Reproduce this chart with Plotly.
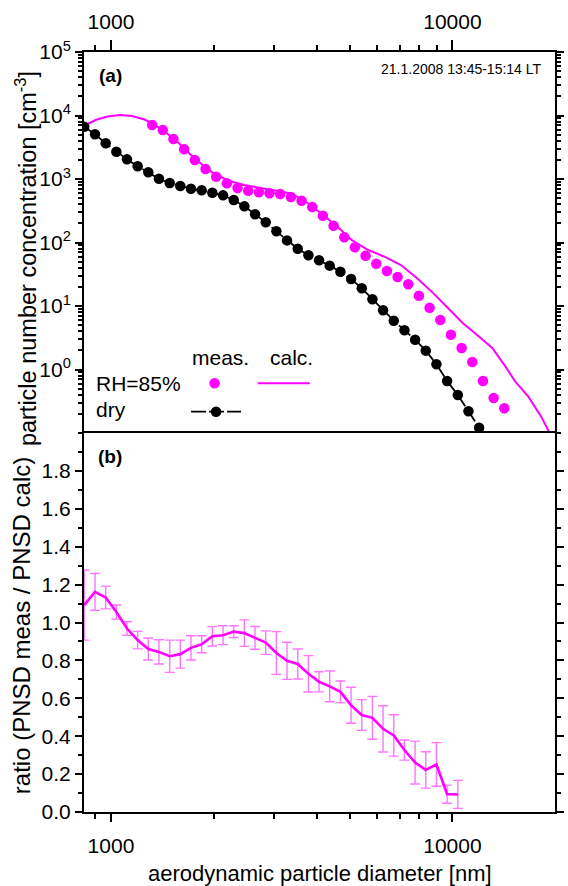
import plotly.graph_objects as go

# ---------------- data ----------------
# dry PNSD (APS channels, nm) and concentration
dry_d = [835, 898, 965, 1037, 1114, 1197, 1286, 1382, 1486, 1596, 1715, 1843, 1981,
         2129, 2288, 2458, 2642, 2839, 3051, 3278, 3523, 3786, 4068, 4371, 4698,
         5048, 5425, 5829, 6264, 6732, 7234, 7774, 8354, 8977, 9647, 10370, 11140, 11970]
dry_n = [6660, 5060, 3650, 2690, 2040, 1585, 1275, 1010, 865, 776, 703, 663, 608,
         553, 467, 372, 278, 208, 150, 108, 79.8, 62.8, 52.5, 43.2, 34.7,
         26.6, 19.0, 12.8, 8.55, 5.87, 4.14, 2.95, 1.98, 1.21, 0.659, 0.397, 0.220, 0.121]

# measured PNSD at RH=85%
meas_d = [1320, 1418, 1524, 1638, 1760, 1892, 2033, 2185, 2348, 2523, 2711, 2913,
          3130, 3364, 3615, 3885, 4174, 4486, 4821, 5180, 5567, 5982, 6428, 6908,
          7423, 7977, 8572, 9212, 9899, 10637, 11431, 12284, 13200, 14185]
meas_n = [7080, 5910, 4270, 2935, 1990, 1436, 1087, 855, 722, 654, 618, 596,
          581, 521, 455, 362, 264, 184, 121, 84, 61.9, 46.4, 35.6, 28.6,
          22.0, 14.5, 9.40, 6.02, 3.53, 2.18, 1.31, 0.659, 0.356, 0.245]

# calculated PNSD at RH=85%
calc_d = [838, 901, 976, 1063, 1151, 1254, 1320, 1431, 1581, 1758, 1965, 2198, 2454,
          2681, 2926, 3340, 3650, 4074, 4548, 5078, 5666, 6325, 7061, 7882, 8800,
          9829, 10730, 11980, 13100, 14300, 15280, 16680, 18200, 19230]
calc_n = [6960, 8490, 9640, 10190, 9820, 8650, 7530, 5700, 3650, 2100, 1303, 947, 805,
          735, 689, 596, 479, 305, 189, 109, 76.2, 59.7, 44.2, 27.3, 15.8,
          8.65, 5.35, 3.29, 2.16, 1.11, 0.643, 0.373, 0.181, 0.101]

# ratio meas / calc
ratio_d = dry_d[:36]
ratio = [1.092, 1.162, 1.132, 1.055, 0.968, 0.907, 0.860, 0.845, 0.822, 0.833, 0.866, 0.885,
         0.927, 0.933, 0.952, 0.944, 0.919, 0.894, 0.839, 0.798, 0.781, 0.729, 0.687, 0.663,
         0.634, 0.563, 0.512, 0.497, 0.439, 0.404, 0.327, 0.261, 0.222, 0.251, 0.094, 0.093]
ratio_err = [0.185, 0.097, 0.060, 0.037, 0.036, 0.046, 0.058, 0.064, 0.085, 0.074, 0.064, 0.045,
             0.051, 0.050, 0.031, 0.070, 0.060, 0.062, 0.113, 0.098, 0.079, 0.096, 0.053, 0.081,
             0.057, 0.095, 0.081, 0.113, 0.122, 0.109, 0.053, 0.113, 0.096, 0.115, 0.048, 0.074]

x_major = [1000, 10000]
x_major_text = ["1000", "10000"]
x_minor = [900, 2000, 3000, 4000, 5000, 6000, 7000, 8000, 9000, 20000]
ya_major = [1, 10, 100, 1000, 10000, 100000]
ya_major_text = ["10<sup>0</sup>", "10<sup>1</sup>", "10<sup>2</sup>",
                 "10<sup>3</sup>", "10<sup>4</sup>", "10<sup>5</sup>"]
ya_minor = [m * 10 ** k for k in range(-1, 5) for m in range(2, 10)]
yb_major = [0.0, 0.2, 0.4, 0.6, 0.8, 1.0, 1.2, 1.4, 1.6, 1.8]
yb_major_text = ["0.0", "0.2", "0.4", "0.6", "0.8", "1.0", "1.2", "1.4", "1.6", "1.8"]

MAG = "#FF00FF"
FONT = "Liberation Sans, Arial, sans-serif"

fig = go.Figure()
fig.add_trace(go.Scatter(x=calc_d, y=calc_n, mode="lines", name="",
                         line=dict(color=MAG, width=2), xaxis="x", yaxis="y",
                         legend="legend2"))
fig.add_trace(go.Scatter(x=meas_d, y=meas_n, mode="markers", name="",
                         marker=dict(color=MAG, size=10.5), xaxis="x", yaxis="y",
                         legend="legend"))
fig.add_trace(go.Scatter(x=dry_d, y=dry_n, mode="lines+markers", name="",
                         line=dict(color="black", width=1.8, dash="15px,3px"),
                         marker=dict(color="black", size=10.5), xaxis="x", yaxis="y",
                         legend="legend3"))
fig.add_trace(go.Scatter(x=ratio_d, y=ratio, mode="lines", showlegend=False,
                         line=dict(color=MAG, width=2.6),
                         error_y=dict(type="data", array=ratio_err, color="rgba(255,70,255,0.75)",
                                      thickness=1.4, width=5),
                         xaxis="x2", yaxis="y2"))

W, H = 568, 886
L, R, T, B = 84, 4, 52, 74
PH = H - T - B  # 760
split = (812 - 433) / PH


def px(xpage):
    return (xpage - L) / (W - L - R)


def py(ypage):
    return (812 - ypage) / PH


axis_common = dict(showgrid=False, zeroline=False, showline=True, linecolor="black",
                   linewidth=2, ticks="outside", tickcolor="black", tickwidth=2,
                   tickfont=dict(family=FONT, size=21, color="black"))

xr = [2.921, 4.3003]
fig.update_layout(
    width=W, height=H,
    margin=dict(l=L, r=R, t=T, b=B, pad=0),
    paper_bgcolor="white", plot_bgcolor="white",
    font=dict(family=FONT, color="black"),
    xaxis=dict(type="log", range=xr, anchor="y", side="top", mirror=False,
               tickmode="array", tickvals=x_major, ticktext=x_major_text, ticklen=10,
               ticklabelstandoff=3,
               minor=dict(tickmode="array", tickvals=x_minor, ticks="outside", ticklen=5,
                          tickwidth=1.5, tickcolor="black"),
               **axis_common),
    xaxis2=dict(type="log", range=xr, anchor="y2", side="bottom", mirror=True, matches="x",
                tickmode="array", tickvals=x_major, ticktext=x_major_text, ticklen=8,
                ticklabelstandoff=6,
                minor=dict(tickmode="array", tickvals=x_minor, ticks="outside", ticklen=5,
                           tickwidth=1.5, tickcolor="black"),
                **axis_common),
    yaxis=dict(type="log", range=[-1, 5], domain=[split, 1], anchor="x", mirror="ticks",
               tickmode="array", tickvals=ya_major, ticktext=ya_major_text, ticklen=7,
               minor=dict(tickmode="array", tickvals=ya_minor, ticks="outside", ticklen=4,
                          tickwidth=1.5, tickcolor="black"),
               **axis_common),
    yaxis2=dict(range=[0, 2], domain=[0, split], anchor="x2", mirror="ticks",
                tickmode="array", tickvals=yb_major, ticktext=yb_major_text, ticklen=7,
                minor=dict(dtick=0.1, tick0=0, ticks="outside", ticklen=4,
                           tickwidth=1.5, tickcolor="black"),
                **axis_common),
    legend=dict(x=px(196.7), y=py(383.3), xanchor="left", yanchor="middle",
                bgcolor="rgba(0,0,0,0)", borderwidth=0, itemwidth=30,
                font=dict(size=12)),
    legend2=dict(x=px(256), y=py(383.3), xanchor="left", yanchor="middle",
                 bgcolor="rgba(0,0,0,0)", borderwidth=0, itemwidth=52,
                 font=dict(size=12)),
    legend3=dict(x=px(188), y=py(411.7), xanchor="left", yanchor="middle",
                 bgcolor="rgba(0,0,0,0)", borderwidth=0, itemwidth=50,
                 font=dict(size=12)),
    showlegend=True,
)

ann = [
    dict(text="<b>(a)</b>", x=px(97), y=py(75), xanchor="left", yanchor="middle",
         font=dict(size=19)),
    dict(text="<b>(b)</b>", x=px(96), y=py(456), xanchor="left", yanchor="middle",
         font=dict(size=19)),
    dict(text="21.1.2008 13:45-15:14 LT", x=px(553), y=py(68.5), xanchor="right",
         yanchor="middle", font=dict(size=14)),
    dict(text="meas.", x=px(223.5), y=py(357.5), xanchor="center", yanchor="middle",
         font=dict(size=21)),
    dict(text="calc.", x=px(295), y=py(357.5), xanchor="center", yanchor="middle",
         font=dict(size=21)),
    dict(text="RH=85%", x=px(94), y=py(383.5), xanchor="left", yanchor="middle",
         font=dict(size=21)),
    dict(text="dry", x=px(94), y=py(409.5), xanchor="left", yanchor="middle",
         font=dict(size=21)),
    dict(text="particle number concentration [cm<sup>-3</sup>]", x=px(25), y=py(259),
         xanchor="center", yanchor="middle", textangle=-90, font=dict(size=23.5)),
    dict(text="ratio (PNSD meas / PNSD calc)", x=px(20), y=py(626),
         xanchor="center", yanchor="middle", textangle=-90, font=dict(size=24)),
    dict(text="aerodynamic particle diameter [nm]", x=px(324), y=py(874),
         xanchor="center", yanchor="middle", font=dict(size=22)),
]
for a in ann:
    a.update(xref="paper", yref="paper", showarrow=False)
    a["font"].update(family=FONT, color="black")
fig.update_layout(annotations=ann)

fig.write_html("out.html")
